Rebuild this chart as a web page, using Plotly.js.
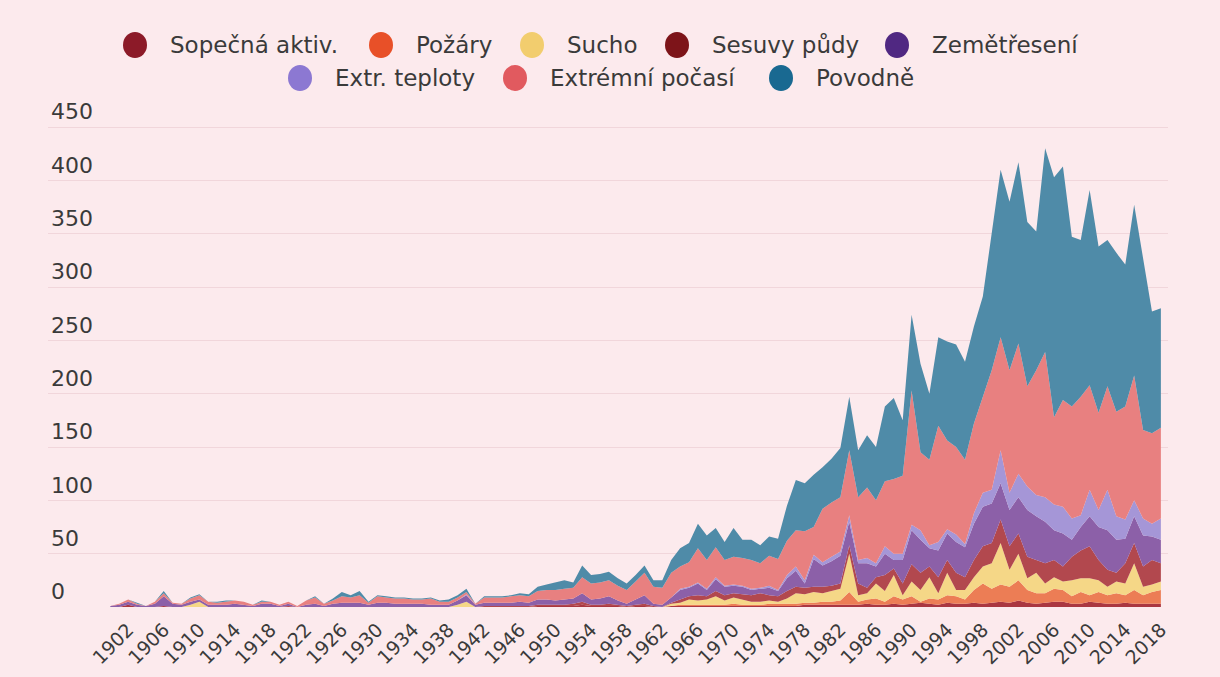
<!DOCTYPE html>
<html><head><meta charset="utf-8">
<script src="https://cdn.plot.ly/plotly-3.0.1.min.js"></script>
<style>html,body{margin:0;padding:0;background:#fceaed;} #chart{width:1220px;height:677px;}</style>
</head><body><div id="chart"></div>
<script>
const years = [1900,1901,1902,1903,1904,1905,1906,1907,1908,1909,
1910,1911,1912,1913,1914,1915,1916,1917,1918,1919,
1920,1921,1922,1923,1924,1925,1926,1927,1928,1929,
1930,1931,1932,1933,1934,1935,1936,1937,1938,1939,
1940,1941,1942,1943,1944,1945,1946,1947,1948,1949,
1950,1951,1952,1953,1954,1955,1956,1957,1958,1959,
1960,1961,1962,1963,1964,1965,1966,1967,1968,1969,
1970,1971,1972,1973,1974,1975,1976,1977,1978,1979,
1980,1981,1982,1983,1984,1985,1986,1987,1988,1989,
1990,1991,1992,1993,1994,1995,1996,1997,1998,1999,
2000,2001,2002,2003,2004,2005,2006,2007,2008,2009,
2010,2011,2012,2013,2014,2015,2016,2017,2018];

const sopecna = [0,0,2,0,0,0,1,0,0,0, 0,0,0,0,0,0,0,0,0,0, 0,0,0,0,0,0,0,0,0,0, 0,0,0,0,0,0,0,0,0,0,
0,0,0,0,0,0,0,0,1,1, 1,1,1,2,1,1,1,1,0,1, 1,0,0,1,1,1,1,1,1,1, 1,1,1,1,1,1,1,1,2,2,
2,2,2,2,2,3,2,2,3,2, 3,4,3,2,4,3,3,4,3,4, 5,4,6,4,3,4,5,5,3,3, 5,4,3,3,4,3,3,3,3];

const pozary = [0,0,0,0,0,0,0,0,0,0, 0,0,0,0,0,0,0,0,0,0, 0,0,0,0,0,0,0,0,0,0, 0,0,0,0,0,0,0,0,0,0,
0,0,0,0,0,0,0,0,0,0, 0,0,0,0,0,0,0,0,0,0, 0,0,0,0,1,1,1,1,1,1, 2,1,1,1,2,2,2,2,2,2,
3,3,4,12,3,4,6,3,7,5, 7,1,5,5,7,7,4,12,19,13, 16,15,19,12,10,9,12,11,7,11, 6,10,8,10,7,13,8,11,13];

const sucho = [0,0,0,0,0,0,0,0,0,2, 5,0,0,0,0,0,0,0,0,0, 0,0,0,0,0,0,0,0,0,0, 0,0,0,0,0,0,0,0,0,2,
5,0,0,0,0,0,0,0,0,0, 0,0,0,0,0,0,0,0,0,0, 0,0,0,2,2,5,4,5,8,4, 6,5,3,3,3,2,5,10,8,10,
8,10,11,36,6,6,14,10,20,4, 14,11,20,6,21,6,9,12,16,24, 39,16,25,11,19,9,11,8,15,13, 16,11,8,11,11,25,8,7,8];

const sesuvy = [0,0,0,0,0,0,0,0,0,0, 0,0,0,0,0,0,0,0,0,0, 1,0,0,0,0,0,0,0,0,0, 0,0,0,0,0,0,0,0,0,0,
0,0,1,1,1,1,1,1,1,1, 1,1,2,3,1,1,2,1,1,1, 2,1,0,1,3,3,5,3,5,5, 4,5,6,8,5,5,7,6,6,5,
6,5,5,8,11,5,6,15,6,11, 16,16,10,15,12,16,12,16,19,19, 22,22,19,20,12,19,16,14,22,26, 30,19,16,8,19,19,19,23,17];

const zemetreseni = [1,2,3,2,1,3,9,3,2,3, 2,2,2,2,3,2,1,3,3,1, 2,0,2,3,1,3,4,4,4,2, 4,4,3,3,3,3,2,2,2,4,
6,2,3,3,3,3,4,3,5,5, 4,5,5,8,5,6,7,4,2,5, 8,2,2,5,9,8,11,6,11,8, 7,7,5,4,7,5,12,15,4,26,
20,23,26,22,19,23,10,20,8,22, 32,31,17,25,25,29,28,34,37,37, 34,34,34,44,41,39,28,31,16,22, 28,31,37,31,23,25,29,22,22];

const teploty = [0,0,0,0,0,0,0,0,0,0, 0,0,0,0,0,0,0,0,0,0, 0,0,0,0,0,0,0,0,0,0, 0,0,0,0,0,0,0,0,0,0,
1,0,0,0,0,0,0,0,0,0, 0,0,0,0,0,0,0,0,0,0, 0,0,0,0,1,1,1,1,2,1, 1,1,1,1,2,1,3,4,3,4,
3,4,4,6,3,5,3,7,6,6, 5,9,3,8,4,7,3,10,13,13, 31,16,22,22,20,23,24,25,20,11, 25,16,38,22,18,15,16,12,20];

const pocasi = [0,1,2,1,0,2,3,1,1,3, 4,3,2,3,3,3,1,2,2,1, 2,1,4,6,2,3,6,5,7,2, 6,5,5,5,4,4,6,3,3,3,
2,1,5,5,5,6,6,6,8,9, 10,10,10,15,15,15,15,14,13,17, 21,16,16,23,21,23,32,27,28,24, 26,26,27,23,28,29,32,34,46,26,
50,51,51,61,59,66,59,61,70,73, 126,73,80,109,83,82,79,84,90,112, 106,115,122,94,117,136,82,100,105,111, 98,91,97,98,106,117,83,85,85];

const povodne = [0,0,0,1,0,0,2,0,0,1, 1,0,1,1,0,0,0,1,0,0, 0,0,0,1,0,2,4,2,4,1, 1,1,1,1,1,1,1,1,2,2,
3,0,1,1,1,1,2,2,4,5, 7,8,5,11,8,8,8,7,6,6, 7,6,7,12,17,18,23,23,18,17, 27,17,19,17,18,19,33,47,45,49,
39,41,46,50,44,49,50,70,76,52, 71,83,62,83,93,96,92,91,94,131, 157,158,170,154,130,191,225,219,159,147, 183,156,137,149,133,160,162,114,112];

const seriesNames = ["Sopečná aktiv.", "Požáry", "Sucho", "Sesuvy půdy", "Zemětřesení", "Extr. teploty", "Extrémní počasí", "Povodně"];
const seriesValues = [sopecna, pozary, sucho, sesuvy, zemetreseni, teploty, pocasi, povodne];
const legendColors = ["#8c1a28", "#e85028", "#f2cd6e", "#7d1419", "#502882", "#8c78d2", "#e15a5f", "#196991"];
const fillColors = ["#aa3741", "#ec7d55", "#f5d787", "#b2484e", "#8c60a8", "#a596d7", "#e88080", "#4f8ba8"];
const xTicks = [1902,1906,1910,1914,1918,1922,1926,1930,1934,1938,1942,1946,1950,1954,1958,1962,1966,1970,1974,1978,1982,1986,1990,1994,1998,2002,2006,2010,2014,2018];
const yTicks = [0,50,100,150,200,250,300,350,400,450];

const FONT = "DejaVu Sans";
const TXT = "#3a3a3a";
const BG = "#fceaed";

const traces = seriesNames.map((name, i) => ({
  x: years, y: seriesValues[i], name: name,
  type: "scatter", mode: "lines", stackgroup: "one",
  line: {width: 0}, fillcolor: fillColors[i],
  showlegend: false, hovertemplate: name + ": %{y}<extra></extra>"
}));

// plot geometry: value 0 at y=607 px, value 450 at y=127 px (extra headroom keeps the top label visible)
const W = 1220, H = 677, L = 48, R = 52, T = 88, B = 70;
const pw = W - L - R, ph = H - T - B;
const yTop = ph * 450 / 480;
const px = v => (v - L) / pw;
const py = v => (H - B - v) / ph;
const legendItems = [
  {cx: 135, cy: 45}, {cx: 381, cy: 45}, {cx: 532, cy: 45}, {cx: 677, cy: 45}, {cx: 897, cy: 45},
  {cx: 300, cy: 78}, {cx: 515, cy: 78}, {cx: 781, cy: 78}
];
const shapes = [], annotations = [];
legendItems.forEach((it, i) => {
  shapes.push({type: "circle", xref: "paper", yref: "paper", xsizemode: "pixel", ysizemode: "pixel",
    xanchor: px(it.cx), yanchor: py(it.cy), x0: -12, x1: 12, y0: -13, y1: 13,
    fillcolor: legendColors[i], line: {width: 0}});
  annotations.push({xref: "paper", yref: "paper", x: px(it.cx + 33), y: py(it.cy), xanchor: "left", yanchor: "middle",
    text: seriesNames[i], showarrow: false, font: {family: FONT, size: 23, color: TXT}});
});

const layout = {
  width: W, height: H,
  paper_bgcolor: BG, plot_bgcolor: BG,
  margin: {l: L, r: R, t: T, b: B},
  showlegend: false,
  xaxis: {range: [1893.0, 2018.8], tickvals: xTicks, tickangle: -45, showgrid: false, zeroline: false, showline: false,
    ticks: "", ticklabelstandoff: 7, tickfont: {family: FONT, size: 19, color: TXT}, fixedrange: true},
  yaxis: {range: [0, yTop], tickvals: yTicks, showgrid: true, gridcolor: "#f1d6db", gridwidth: 1, zeroline: false, showline: false,
    ticks: "", ticklabelposition: "inside top", tickfont: {family: FONT, size: 22, color: TXT}, fixedrange: true},
  shapes: shapes, annotations: annotations
};
Plotly.newPlot("chart", traces, layout, {displayModeBar: false, staticPlot: true});
</script></body></html>
